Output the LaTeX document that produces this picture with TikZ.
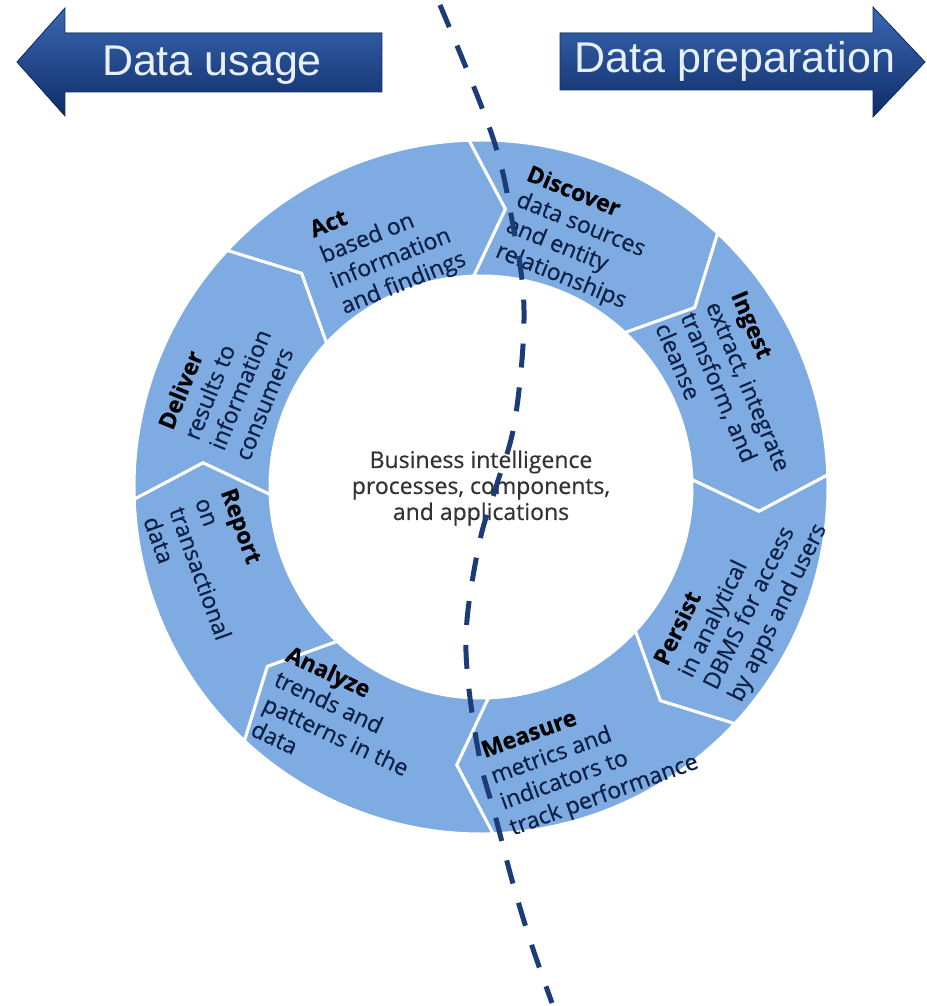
\documentclass[tikz,border=0pt]{standalone}
\usepackage{fontspec}
\newfontfamily\ringfont[FakeBold=0.5]{Open Sans}
\newfontfamily\arrowfont{Liberation Sans}
\usetikzlibrary{calc,positioning}

\definecolor{ringblue}{RGB}{126,171,226}
\definecolor{navytext}{RGB}{12,32,70}
\definecolor{dashblue}{RGB}{28,60,120}
\definecolor{arrowtop}{RGB}{58,104,178}
\definecolor{arrowbot}{RGB}{14,44,104}
\definecolor{labelwhite}{RGB}{232,240,252}

\tikzset{
  segment/.style={fill=ringblue, draw=white, line width=3pt, line join=miter},
  steplabel/.style={font={\ringfont\fontsize{23}{27.5}\selectfont}, text=navytext, align=left, inner sep=0pt},
  bigarrow/.style={top color=arrowtop, bottom color=arrowbot, draw=arrowbot, line width=0.8pt},
  arrowlabel/.style={font={\arrowfont\fontsize{43}{43}\selectfont}, text=labelwhite, inner sep=0pt},
  divider/.style={draw=dashblue, line width=5pt, dash pattern=on 24pt off 20pt}
}

\newcommand{\steptitle}[1]{\textbf{\color{black}#1}}

\begin{document}
\begin{tikzpicture}[x=1pt,y=1pt]
  \useasboundingbox[fill=white] (-481,-519) rectangle (445,487);

  % ring of eight chevron segments
  \foreach \a [evaluate=\a as \b using \a-45,
               evaluate=\a as \t using \a-7,
               evaluate=\a as \u using \a-52] in {92,47,2,-43,-88,-133,-178,-223}
    \filldraw[segment] (\a:347) arc[start angle=\a, end angle=\b, radius=347]
      -- (\u:279) -- (\b:211) arc[start angle=\b, end angle=\a, radius=211]
      -- (\t:279) -- cycle;

  % labels on the ring
  \node[steplabel, rotate=22]  (act)      at (111:258)  {\steptitle{Act}\\based on\\information\\and findings};
  \node[steplabel, rotate=-22] (discover) at (69:266)   {\steptitle{Discover}\\data sources\\and entity\\relationships};
  \node[steplabel, rotate=-67] (ingest)   at (20.5:272) {\steptitle{Ingest}\\extract, integrate\\transform, and\\cleanse};
  \node[steplabel, rotate=64]  (persist)  at (-22.5:282)  {\steptitle{Persist}\\in analytical\\DBMS for access\\by apps and users};
  \node[steplabel, rotate=20]  (measure)  at (-68:292)  {\steptitle{Measure}\\metrics and\\indicators to\\track performance};
  \node[steplabel, rotate=-25] (analyze)  at (-120.5:274) {\steptitle{Analyze}\\trends and\\patterns in the\\data};
  \node[steplabel, rotate=-70] (report)   at (-163:280) {\steptitle{Report}\\on\\transactional\\data};
  \node[steplabel, rotate=68]  (deliver)  at (158:274)  {\steptitle{Deliver}\\results to\\information\\consumers};

  \node[font={\ringfont\fontsize{23}{26}\selectfont}, text=black!80, align=center] (bi) at (0,-1)
    {Business intelligence\\processes, components,\\and applications};

  % the two direction arrows
  \filldraw[bigarrow] (-464,425) -- (-416,479) -- (-416,454) -- (-99,454)
    -- (-99,395) -- (-416,395) -- (-416,371) -- cycle;
  \node[arrowlabel] (usage) at (-269,422) {Data usage};

  \filldraw[bigarrow] (79,454) -- (392,454) -- (392,480) -- (444,425)
    -- (392,370) -- (392,397) -- (79,397) -- cycle;
  \node[arrowlabel] (prep) at (254,426) {Data preparation};

  % dividing line
  \draw[divider] plot[smooth, tension=0.6] coordinates {
    (-41,482) (11,352) (31,267) (43,177) (34,67) (15,0) (-1,-53)
    (-14,-133) (-13,-193) (-1,-273) (14,-328) (31,-393) (49,-453) (71,-516)};
\end{tikzpicture}
\end{document}
